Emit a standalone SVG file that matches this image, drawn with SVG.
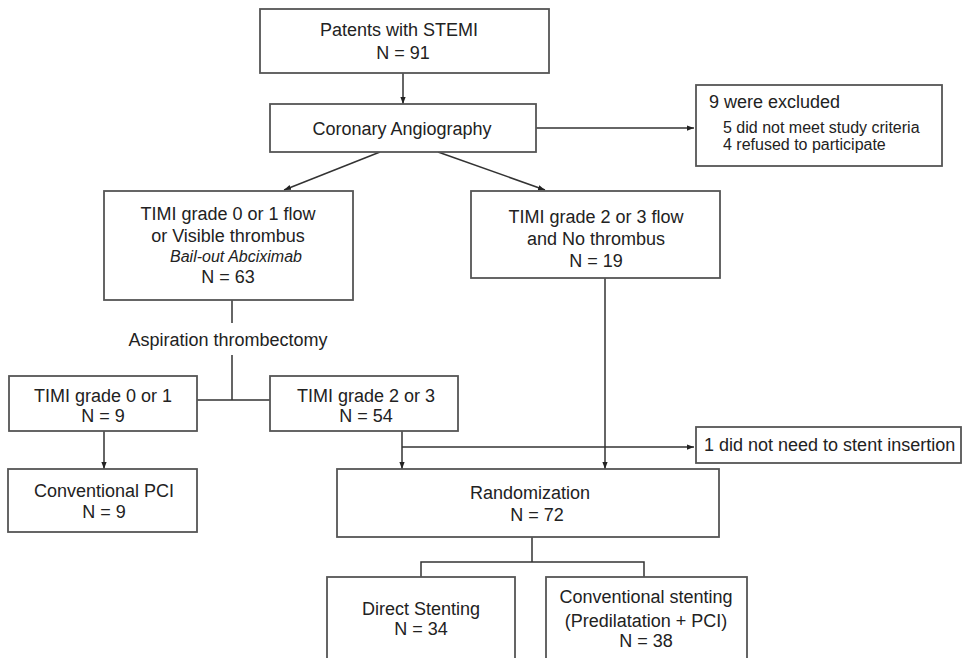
<svg xmlns="http://www.w3.org/2000/svg" width="965" height="658" viewBox="0 0 965 658">
<style>
.box{fill:#fff;stroke:#555;stroke-width:1.8}
.t{font-family:"Liberation Sans",Arial,sans-serif;font-size:18px;fill:#222;text-anchor:middle}
.s{font-family:"Liberation Sans",Arial,sans-serif;font-size:16px;fill:#222}
.it{font-style:italic;font-size:16px}
.ln{fill:none;stroke:#333;stroke-width:1.5}
</style>
<defs>
<marker id="arr" viewBox="0 0 8 8" refX="8" refY="4" markerWidth="7" markerHeight="7" markerUnits="userSpaceOnUse" orient="auto">
<path d="M0,1 L8,4 L0,7 z" fill="#222"/>
</marker>
</defs>
<rect width="965" height="658" fill="#fff"/>
<g id="connectors">
<path class="ln" d="M403,73 V104" marker-end="url(#arr)"/>
<path class="ln" d="M536,128 H694" marker-end="url(#arr)"/>
<path class="ln" d="M380,152 L284,190" marker-end="url(#arr)"/>
<path class="ln" d="M438,152 L545,190" marker-end="url(#arr)"/>
<path class="ln" d="M232,300 V323"/>
<path class="ln" d="M232,355 V400 M197,400 H270"/>
<path class="ln" d="M104,431 V469" marker-end="url(#arr)"/>
<path class="ln" d="M402,431 V469" marker-end="url(#arr)"/>
<path class="ln" d="M402,447 H694" marker-end="url(#arr)"/>
<path class="ln" d="M605,278 V469" marker-end="url(#arr)"/>
<path class="ln" d="M532,537 V562 M421,577 V562 H644 V577"/>
</g>
<g id="n1">
<rect class="box" x="260" y="9" width="289" height="64"/>
<text class="t" x="399" y="36">Patents with STEMI</text>
<text class="t" x="403" y="59">N = 91</text>
</g>
<g id="n2">
<rect class="box" x="270" y="104" width="266" height="48"/>
<text class="t" x="402" y="135">Coronary Angiography</text>
</g>
<g id="excluded">
<rect class="box" x="696" y="85" width="246" height="81"/>
<text class="t" x="709" y="108" style="text-anchor:start">9 were excluded</text>
<text class="s" x="723" y="133">5 did not meet study criteria</text>
<text class="s" x="723" y="150">4 refused to participate</text>
</g>
<g id="n3">
<rect class="box" x="104" y="191" width="249" height="109"/>
<text class="t" x="228" y="220">TIMI grade 0 or 1 flow</text>
<text class="t" x="228" y="242">or Visible thrombus</text>
<text class="t it" x="236" y="262">Bail-out Abciximab</text>
<text class="t" x="228" y="283">N = 63</text>
</g>
<g id="n4">
<rect class="box" x="471" y="191" width="249" height="87"/>
<text class="t" x="596" y="223">TIMI grade 2 or 3 flow</text>
<text class="t" x="596" y="245">and No thrombus</text>
<text class="t" x="596" y="267">N = 19</text>
</g>
<g id="aspiration">
<text class="t" x="228" y="346">Aspiration thrombectomy</text>
</g>
<g id="n5">
<rect class="box" x="9" y="376" width="188" height="55"/>
<text class="t" x="103" y="402">TIMI grade 0 or 1</text>
<text class="t" x="103" y="422">N = 9</text>
</g>
<g id="n6">
<rect class="box" x="270" y="376" width="188" height="55"/>
<text class="t" x="366" y="402">TIMI grade 2 or 3</text>
<text class="t" x="366" y="422">N = 54</text>
</g>
<g id="n7">
<rect class="box" x="8" y="469" width="189" height="63"/>
<text class="t" x="104" y="497">Conventional PCI</text>
<text class="t" x="104" y="518">N = 9</text>
</g>
<g id="n8">
<rect class="box" x="696" y="427" width="265" height="36"/>
<text class="t" x="704" y="451" style="text-anchor:start">1 did not need to stent insertion</text>
</g>
<g id="n9">
<rect class="box" x="337" y="469" width="382" height="68"/>
<text class="t" x="530" y="499">Randomization</text>
<text class="t" x="537" y="521">N = 72</text>
</g>
<g id="n10">
<rect class="box" x="327" y="577" width="188" height="100"/>
<text class="t" x="421" y="615">Direct Stenting</text>
<text class="t" x="421" y="635">N = 34</text>
</g>
<g id="n11">
<rect class="box" x="546" y="577" width="201" height="100"/>
<text class="t" x="646" y="603">Conventional stenting</text>
<text class="t" x="646" y="627">(Predilatation + PCI)</text>
<text class="t" x="646" y="647">N = 38</text>
</g>
</svg>
